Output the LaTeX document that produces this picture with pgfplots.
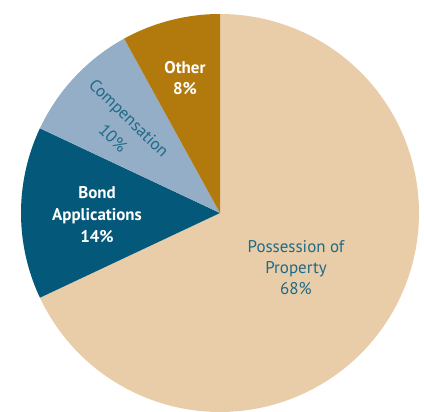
\documentclass[border=0pt]{standalone}
\usepackage{pgfplots}
\pgfplotsset{compat=1.18}
\usepackage{fontspec}
\setmainfont{PT Sans}
\definecolor{ctan}{HTML}{E8CDA8}
\definecolor{cdark}{HTML}{04597A}
\definecolor{clight}{HTML}{93AEC6}
\definecolor{cgold}{HTML}{B27A0C}
\definecolor{cteal}{HTML}{1F6A88}
\begin{document}
\begin{tikzpicture}
\begin{axis}[
  width=424bp, height=411bp, scale only axis,
  xmin=-220, xmax=204, ymin=-198, ymax=213,
  axis lines=none, clip=false,
]
\path (axis cs:-220,-198) rectangle (axis cs:204,213);
% shares (percent): Possession 68, Bond 14, Compensation 10, Other 8 ; radius 199
\def\R{199}
\addplot[fill=ctan, draw=none, domain=90:-154.8, samples=150]
  ({\R*cos(x)},{\R*sin(x)}) -- (axis cs:0,0) -- cycle;
\addplot[fill=cdark, draw=none, domain=-154.8:-205.2, samples=40]
  ({\R*cos(x)},{\R*sin(x)}) -- (axis cs:0,0) -- cycle;
\addplot[fill=clight, draw=none, domain=-205.2:-241.2, samples=30]
  ({\R*cos(x)},{\R*sin(x)}) -- (axis cs:0,0) -- cycle;
\addplot[fill=cgold, draw=none, domain=-241.2:-270, samples=30]
  ({\R*cos(x)},{\R*sin(x)}) -- (axis cs:0,0) -- cycle;

\node[align=center, text=cteal, font=\fontsize{17}{21}\selectfont] at (axis cs:76,-55) {Possession of\\Property\\68\%};
\node[align=center, text=white, font=\fontsize{17}{22}\selectfont\bfseries] at (axis cs:-123,-2) {Bond\\Applications\\14\%};
\node[align=center, text=white, font=\fontsize{17}{21}\selectfont\bfseries] at (axis cs:-35,135) {Other\\8\%};
\node[text=cteal, rotate=-44, font=\fontsize{17}{21}\selectfont, inner sep=0pt] at (axis cs:-92,94) {Compensation};
\node[text=cteal, rotate=-44, font=\fontsize{17}{21}\selectfont, inner sep=0pt] at (axis cs:-107,75) {10\%};
\end{axis}
\end{tikzpicture}
\end{document}
